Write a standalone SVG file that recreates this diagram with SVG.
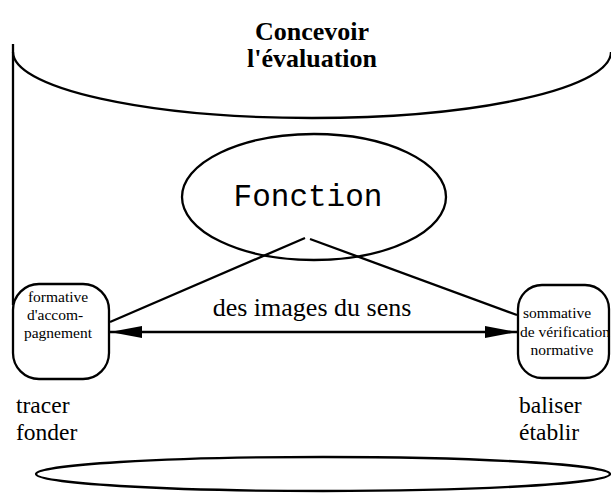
<svg xmlns="http://www.w3.org/2000/svg" width="611" height="494" viewBox="0 0 611 494">
  <style>
    .ln { fill: none; stroke: #000; stroke-width: 2.3; }
    .box { fill: #fff; stroke: #000; stroke-width: 2.3; }
    .serif { font-family: "Liberation Serif", "Times New Roman", serif; fill: #000; }
    .mono { font-family: "Liberation Mono", "Courier New", monospace; fill: #000; }
  </style>
  <defs>
    <marker id="head" viewBox="0 0 32 12" refX="32" refY="6" markerWidth="32" markerHeight="12" markerUnits="userSpaceOnUse" orient="auto-start-reverse">
      <path d="M0,0 L32,6 L0,12 Z" fill="#000"/>
    </marker>
  </defs>
  <rect width="611" height="494" fill="#fff"/>

  <!-- top bowl with title -->
  <g id="concevoir">
    <path class="ln" d="M13,44 L13,52 A299,66 0 0 0 611,52"/>
    <text class="serif" x="312" y="40" font-size="26" font-weight="bold" text-anchor="middle">Concevoir</text>
    <text class="serif" x="312" y="67" font-size="26" font-weight="bold" text-anchor="middle">l'évaluation</text>
  </g>

  <!-- connectors -->
  <g id="connectors">
    <line class="ln" x1="13" y1="52" x2="13" y2="305"/>
    <line class="ln" x1="305" y1="238" x2="110" y2="322"/>
    <line class="ln" x1="310" y1="239" x2="517" y2="315"/>
    <line class="ln" x1="110" y1="332" x2="517" y2="332" marker-start="url(#head)" marker-end="url(#head)"/>
    <text class="serif" x="312" y="316" font-size="26" text-anchor="middle">des images du sens</text>
  </g>

  <!-- central function -->
  <g id="fonction">
    <ellipse class="ln" cx="314" cy="197" rx="132" ry="63"/>
    <text class="mono" x="308" y="206" font-size="31" text-anchor="middle">Fonction</text>
  </g>

  <!-- left node -->
  <g id="formative">
    <rect class="box" x="13" y="284" width="96" height="95" rx="26" ry="26"/>
    <text class="serif" font-size="15.5" text-anchor="middle">
      <tspan x="60" y="302">formative</tspan>
      <tspan x="57" y="320">d'accom-</tspan>
      <tspan x="58" y="338">pagnement</tspan>
    </text>
  </g>

  <!-- right node -->
  <g id="sommative">
    <rect class="box" x="518" y="285" width="91" height="93" rx="24" ry="24"/>
    <text class="serif" font-size="15.5" text-anchor="middle">
      <tspan x="559" y="318">sommative</tspan>
      <tspan x="567" y="337">de vérification</tspan>
      <tspan x="562" y="355">normative</tspan>
    </text>
  </g>

  <!-- verbs -->
  <g id="verbes-gauche">
    <text class="serif" x="16" y="413" font-size="23.5">tracer</text>
    <text class="serif" x="16" y="440" font-size="23.5">fonder</text>
  </g>
  <g id="verbes-droite">
    <text class="serif" x="519" y="413" font-size="23.5">baliser</text>
    <text class="serif" x="519" y="440" font-size="23.5">établir</text>
  </g>

  <!-- bottom ellipse -->
  <g id="socle">
    <ellipse class="ln" cx="323" cy="474" rx="287" ry="17"/>
  </g>
</svg>
